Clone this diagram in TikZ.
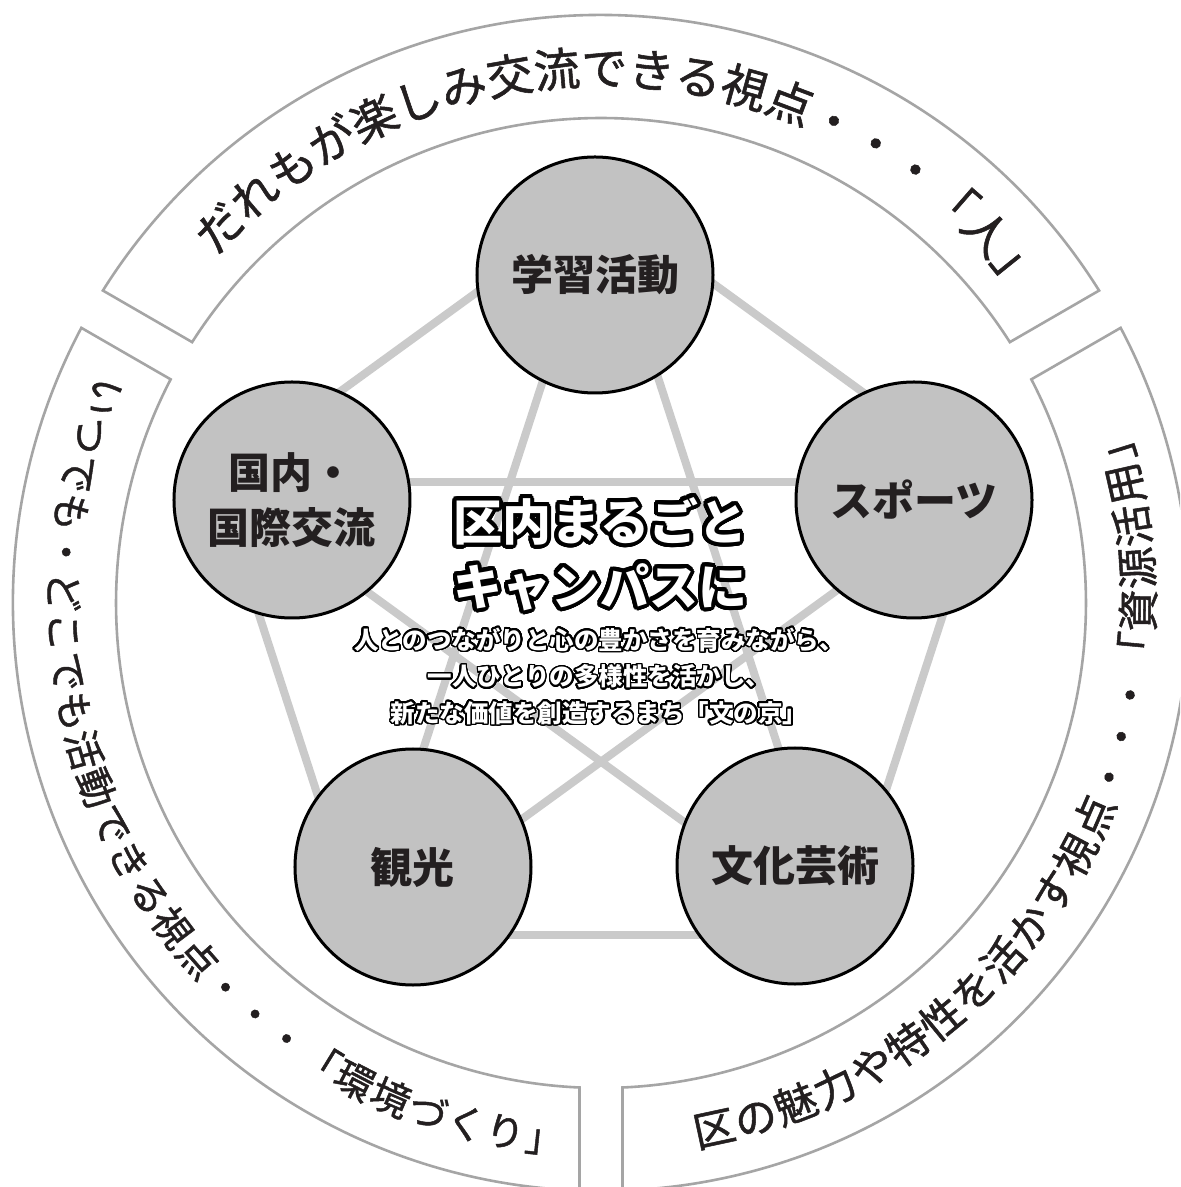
\documentclass[tikz,border=0pt]{standalone}
\usepackage{fontspec}
\usepackage{xcolor}
\usepackage{contour}
\usetikzlibrary{decorations.text}

\newfontfamily\jpfont{Noto Sans CJK JP}
\newfontfamily\bandfont{Noto Sans CJK JP}[FakeBold=1.2]

\definecolor{ringgray}{RGB}{165,165,165}
\definecolor{spokegray}{RGB}{202,202,202}
\definecolor{discgray}{RGB}{194,194,194}
\definecolor{ink}{RGB}{35,31,32}

\contournumber{32}

\tikzset{
  theme/.style={circle, draw=black, line width=1.5pt, fill=discgray, minimum size=118pt,
    inner sep=0pt, align=center, text=ink, font=\jpfont\bfseries\fontsize{21}{27.5}\selectfont},
  spoke/.style={draw=spokegray, line width=4pt},
  band/.style={draw=ringgray, line width=1.3pt, fill=white},
  bandtext/.style={decorate, decoration={text along path, text align={fit to path}, text={#1}}},
  title/.style={text=white, align=center, font=\jpfont\bfseries\fontsize{24.5}{32.5}\selectfont},
  motto/.style={text=white, align=center, font=\jpfont\bfseries\fontsize{12.25}{18.25}\selectfont},
}

\begin{document}
\begin{tikzpicture}[x=0.5pt, y=0.5pt]

\useasboundingbox (-601,-584) rectangle (579,603);
\fill [white] (-601,-584) rectangle (579,603);
\clip (-601,-584) rectangle (579,603);

% Pentagon and star
\foreach \i in {1,...,5}
  \coordinate (p\i) at ({405*cos(90-72*(\i-1))},{405*sin(90-72*(\i-1))-4});
\foreach \a/\b in {1/2,2/3,3/4,4/5,5/1,1/3,3/5,5/2,2/4,4/1}
  \draw [spoke] (p\a) -- (p\b);

% Themes
\node [theme] (study) at (-6,328) {学習活動};
\node [theme] (sport) at (313,103) {スポーツ};
\node [theme] (arts) at (194,-263) {文化芸術};
\node [theme] (tour) at (-188,-264) {観光};
\node [theme] (intl) at (-309,103) {国内・\\国際交流};

% Centre
\node [title] (catch) at (-1,47) {\contourlength{2pt}\contour{black}{区内まるごと}\\
  \contourlength{2pt}\contour{black}{キャンパスに}};
\node [motto] (motto) at (-2,-74) {\contourlength{0.8pt}\contour{black}{人とのつながりと心の豊かさを育みながら、}\\
  \contourlength{0.8pt}\contour{black}{一人ひとりの多様性を活かし、}\\
  \contourlength{0.8pt}\contour{black}{新たな価値を創造するまち「文の京」}};

%==============================================================================================

% Bands
\draw [band] (32.1:588) arc [start angle=32.1, end angle=147.9, radius=588]
  -- (147.46:485) arc [start angle=147.46, end angle=32.54, radius=485] -- cycle; % top
\draw [band] (152.1:588) arc [start angle=152.1, end angle=267.9, radius=588]
  -- (267.46:485) arc [start angle=267.46, end angle=152.54, radius=485] -- cycle; % left
\draw [band] (-87.9:588) arc [start angle=-87.9, end angle=27.9, radius=588]
  -- (27.46:485) arc [start angle=27.46, end angle=-87.46, radius=485] -- cycle; % right

% Band texts
\path [bandtext={|\bandfont\fontsize{23}{23}\selectfont\color{ink}|だれもが楽しみ交流できる視点・・・「人」}]
  (138:518) arc [start angle=138, end angle=38.4, radius=518];
\path [bandtext={|\bandfont\fontsize{19.5}{19.5}\selectfont\color{ink}|いつでも・どこでも活動できる視点・・・「環境づくり」}]
  (155.5:552) arc [start angle=155.5, end angle=266, radius=552];
\path [bandtext={|\bandfont\fontsize{21}{21}\selectfont\color{ink}|区の魅力や特性を活かす視点・・・「資源活用」}]
  (-80:553) arc [start angle=-80, end angle=19.5, radius=553];

\end{tikzpicture}
\end{document}
